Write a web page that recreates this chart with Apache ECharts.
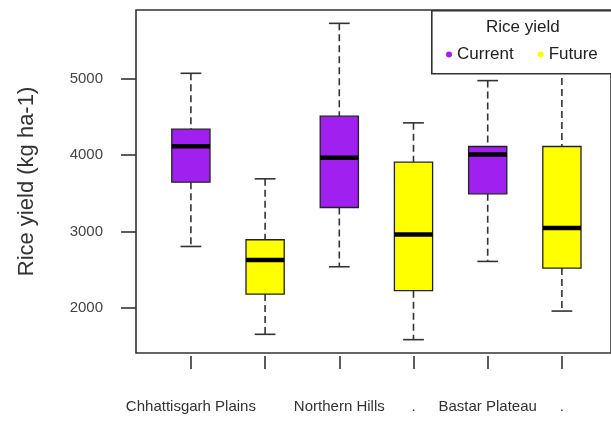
<!DOCTYPE html>
<html>
<head>
<meta charset="utf-8">
<script src="https://cdn.jsdelivr.net/npm/echarts@6/dist/echarts.min.js"></script>
<style>
html,body{margin:0;padding:0;background:#fff;}
#chart{width:611px;height:421px;}
</style>
</head>
<body>
<div id="chart"></div>
<script>
// ---- data ----
const categories = ["Chhattisgarh Plains Current", "Chhattisgarh Plains Future", "Northern Hills Current", "Northern Hills Future", "Bastar Plateau Current", "Bastar Plateau Future"];
const tickLabels = ["Chhattisgarh Plains", "", "Northern Hills", ".", "Bastar Plateau", "."];
const groups = ["Current", "Future", "Current", "Future", "Current", "Future"];
const whiskerLow = [2803, 1651, 2537, 1581, 2607, 1956];
const quartile1  = [3646, 2179, 3314, 2223, 3493, 2520];
const medians    = [4118, 2624, 3965, 2961, 4009, 3044];
const quartile3  = [4341, 2891, 4511, 3908, 4114, 4114];
const whiskerHigh= [5074, 3690, 5729, 4424, 4978, 5300];
const yTicks = [2000, 3000, 4000, 5000];
const yMin = 1406, yMax = 5904;
const seriesNames = ["Current", "Future"];
const seriesColors = {"Current": "#A020F0", "Future": "#FFFF00"};

const FONT = "Liberation Sans, Arial, sans-serif";

function seriesData(name) {
  const out = [];
  for (let i = 0; i < categories.length; i++) {
    if (groups[i] === name) out.push([i, whiskerLow[i], quartile1[i], medians[i], quartile3[i], whiskerHigh[i]]);
  }
  return out;
}

function renderBox(params, api) {
  const x = api.value(0);
  const pLow = api.coord([x, api.value(1)]);
  const pQ1 = api.coord([x, api.value(2)]);
  const pMed = api.coord([x, api.value(3)]);
  const pQ3 = api.coord([x, api.value(4)]);
  const pHigh = api.coord([x, api.value(5)]);
  const band = api.size([1, 0])[0];
  const bw = band * 0.515;
  const cw = band * 0.28;
  const cx = pMed[0];
  const color = api.visual('color');
  const wStyle = {stroke: '#333', lineWidth: 1.6, lineDash: [7, 4]};
  const cStyle = {stroke: '#333', lineWidth: 1.6};
  return {
    type: 'group',
    children: [
      {type: 'line', shape: {x1: cx, y1: pHigh[1], x2: cx, y2: pQ3[1]}, style: wStyle},
      {type: 'line', shape: {x1: cx, y1: pQ1[1], x2: cx, y2: pLow[1]}, style: wStyle},
      {type: 'line', shape: {x1: cx - cw / 2, y1: pHigh[1], x2: cx + cw / 2, y2: pHigh[1]}, style: cStyle},
      {type: 'line', shape: {x1: cx - cw / 2, y1: pLow[1], x2: cx + cw / 2, y2: pLow[1]}, style: cStyle},
      {type: 'rect', shape: {x: cx - bw / 2, y: pQ3[1], width: bw, height: pQ1[1] - pQ3[1]},
        style: {fill: color, stroke: '#222', lineWidth: 1.3}},
      {type: 'line', shape: {x1: cx - bw / 2, y1: pMed[1], x2: cx + bw / 2, y2: pMed[1]},
        style: {stroke: '#000', lineWidth: 4.5}}
    ]
  };
}

const chart = echarts.init(document.getElementById('chart'), null, {renderer: 'canvas'});
const option = {
  backgroundColor: '#fff',
  animation: false,
  grid: [
    {left: 153.8, right: 12, top: 10, bottom: 68, show: false},
    {left: 136, right: -8, top: 10, bottom: 68, show: true, borderColor: '#333', borderWidth: 1.6, backgroundColor: 'transparent', z: 1}
  ],
  xAxis: [
    {
      type: 'category', gridIndex: 0, data: categories, boundaryGap: true, offset: 3,
      axisLine: {show: false},
      axisTick: {show: true, alignWithLabel: true, length: 13, lineStyle: {color: '#333', width: 1.6}},
      axisLabel: {interval: 0, margin: 43, fontSize: 15, fontFamily: FONT, color: '#333',
        formatter: function (v, i) { return tickLabels[i]; }},
      splitLine: {show: false}
    },
    {type: 'value', gridIndex: 1, show: false, min: 0, max: 1}
  ],
  yAxis: [
    {
      type: 'value', gridIndex: 0, min: yMin, max: yMax, offset: 17.8,
      name: 'Rice yield (kg ha-1)', nameLocation: 'middle', nameGap: 98, nameRotate: 90,
      nameTextStyle: {fontSize: 22, fontFamily: FONT, color: '#333'},
      axisLine: {show: false},
      axisTick: {show: true, length: 15, customValues: yTicks, lineStyle: {color: '#333', width: 1.6}},
      axisLabel: {customValues: yTicks, margin: 33, fontSize: 15, fontFamily: FONT, color: '#444',
        formatter: function (v) { return String(v); }},
      splitLine: {show: false}
    },
    {type: 'value', gridIndex: 1, show: false, min: 0, max: 1}
  ],
  legend: {
    data: seriesNames, left: 441, top: 41, icon: 'circle', itemWidth: 6, itemHeight: 6, itemGap: 24,
    textStyle: {fontSize: 17, fontFamily: FONT, color: '#222'}, z: 20
  },
  graphic: [
    {type: 'rect', left: 431, top: 10, shape: {width: 200, height: 63}, style: {fill: '#fff', stroke: '#333', lineWidth: 1.6}, z: 10},
    {type: 'text', left: 486, top: 19, style: {text: 'Rice yield', fontSize: 17, fontFamily: FONT, fill: '#222'}, z: 11}
  ],
  series: seriesNames.map(function (name) {
    return {
      name: name, type: 'custom', xAxisIndex: 0, yAxisIndex: 0,
      itemStyle: {color: seriesColors[name]},
      renderItem: renderBox,
      data: seriesData(name),
      encode: {x: 0, y: [1, 2, 3, 4, 5]},
      z: 3
    };
  })
};
chart.setOption(option);
</script>
</body>
</html>
